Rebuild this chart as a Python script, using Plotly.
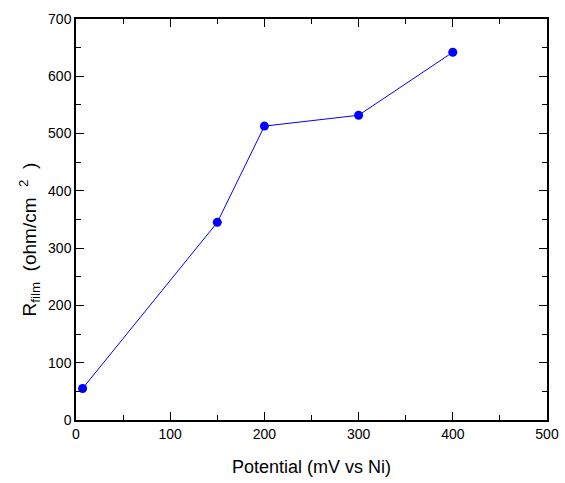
import plotly.graph_objects as go

potential = [7, 150, 200, 300, 400]
r_film = [55, 345, 513, 532, 642]

x_title = "Potential (mV vs Ni)"
y_title = "R<sub>film</sub>  (ohm/cm  <sup>2</sup>  )"

fig = go.Figure()
fig.add_trace(go.Scatter(
    x=potential, y=r_film, mode="lines+markers",
    line=dict(color="#0000ff", width=1),
    marker=dict(color="#0000ff", size=9),
    showlegend=False,
))

FONT = "Liberation Sans, Arial, sans-serif"
axis_common = dict(
    showgrid=False, zeroline=False, showline=True, linecolor="black", linewidth=1.5,
    mirror="ticks", ticks="inside", ticklen=8, tickwidth=1.2, tickcolor="black",
    tickfont=dict(family=FONT, size=14, color="black"),
    minor=dict(ticks="inside", ticklen=5, tickwidth=1, tickcolor="black", dtick=50),
    automargin=False,
)

fig.update_layout(
    width=565, height=483,
    margin=dict(l=76, r=18, t=19, b=63),
    paper_bgcolor="white", plot_bgcolor="white",
    font=dict(family=FONT, color="black"),
    xaxis=dict(range=[0, 500], dtick=100, tick0=0, **axis_common),
    yaxis=dict(range=[0, 700], dtick=100, tick0=0, **axis_common),
    annotations=[
        dict(text=x_title, xref="paper", yref="paper", x=0.5, y=-0.118,
             xanchor="center", yanchor="middle", showarrow=False,
             font=dict(family=FONT, size=18, color="black")),
        dict(text=y_title, xref="paper", yref="paper", x=-0.098, y=0.45,
             xanchor="center", yanchor="middle", showarrow=False, textangle=-90,
             font=dict(family=FONT, size=19, color="black")),
    ],
)

fig.write_html("out.html", config={"displayModeBar": False},
               post_script="document.body.style.margin='0';")
